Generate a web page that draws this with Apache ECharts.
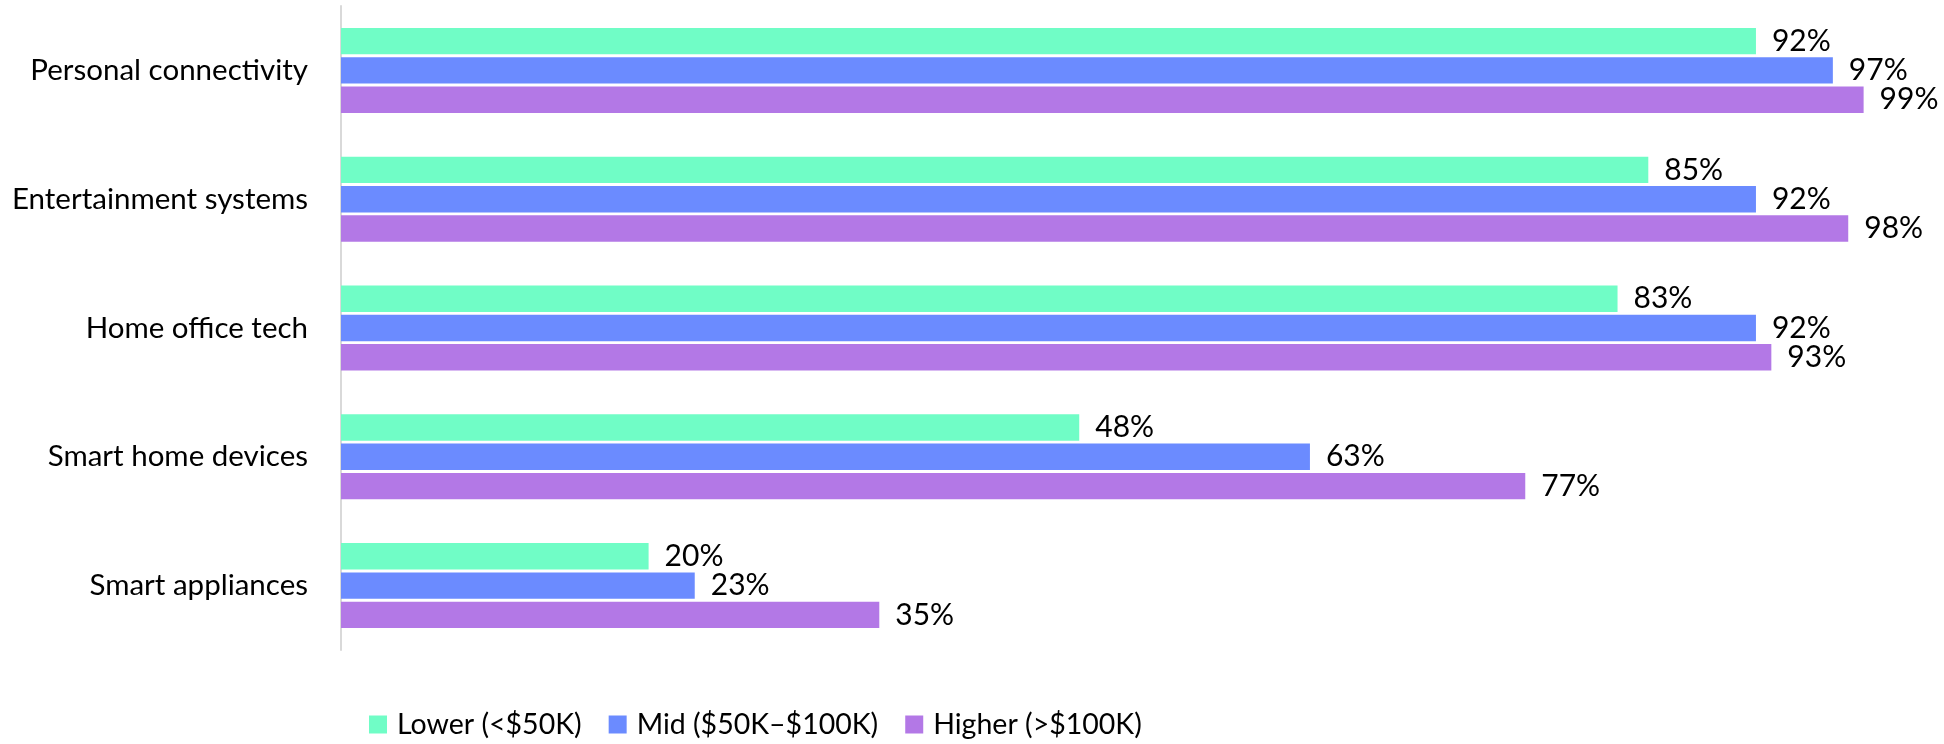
<!DOCTYPE html>
<html>
<head>
<meta charset="utf-8">
<script src="https://cdn.jsdelivr.net/npm/echarts@6/dist/echarts.min.js"></script>
<style>
  html, body { margin: 0; padding: 0; background: #ffffff; }
  #chart { width: 1944px; height: 744px; }
</style>
</head>
<body>
<div id="chart"></div>
<script>
// Device categories (top to bottom)
const categories = [
  'Personal connectivity',
  'Entertainment systems',
  'Home office tech',
  'Smart home devices',
  'Smart appliances'
];

// Ownership share by household income (%)
const seriesNames = ['Lower (<$50K)', 'Mid ($50K–$100K)', 'Higher (>$100K)'];
const lowerIncome  = [92, 85, 83, 48, 20];
const midIncome    = [97, 92, 92, 63, 23];
const higherIncome = [99, 98, 93, 77, 35];

const colors = ['#70FDC6', '#6B8BFF', '#B378E6'];
const FONT = 'Lato';
const LABEL_SIZE = 29.5;
const VALUE_SIZE = 30;
const LEGEND_SIZE = 28.5;

const chart = echarts.init(document.getElementById('chart'), null, { renderer: 'canvas' });

function makeSeries(name, data, color) {
  return {
    name: name,
    type: 'bar',
    data: data,
    barCategoryGap: '34%',
    barGap: '11%',
    itemStyle: { color: color },
    label: {
      show: true,
      position: 'right',
      distance: 16,
      formatter: '{c}%',
      color: '#000000',
      fontFamily: FONT,
      fontSize: VALUE_SIZE
    },
    emphasis: { disabled: true }
  };
}

chart.setOption({
  animation: false,
  backgroundColor: '#ffffff',
  grid: { left: 341, right: 65, top: 6, bottom: 94, containLabel: false },
  xAxis: {
    type: 'value',
    min: 0,
    max: 100,
    show: false
  },
  yAxis: {
    type: 'category',
    data: categories,
    inverse: true,
    axisLine: { show: true, lineStyle: { color: '#D9D9D9', width: 2 } },
    axisTick: { show: false },
    axisLabel: {
      margin: 33,
      color: '#000000',
      fontFamily: FONT,
      fontSize: LABEL_SIZE
    },
    splitLine: { show: false }
  },
  legend: {
    bottom: 0,
    left: 364,
    itemWidth: 18,
    itemHeight: 18,
    itemGap: 27,
    icon: 'rect',
    textStyle: { color: '#000000', fontFamily: FONT, fontSize: LEGEND_SIZE, padding: [0, 0, 0, 5] },
    data: seriesNames
  },
  series: [
    makeSeries(seriesNames[0], lowerIncome, colors[0]),
    makeSeries(seriesNames[1], midIncome, colors[1]),
    makeSeries(seriesNames[2], higherIncome, colors[2])
  ]
});
</script>
</body>
</html>
